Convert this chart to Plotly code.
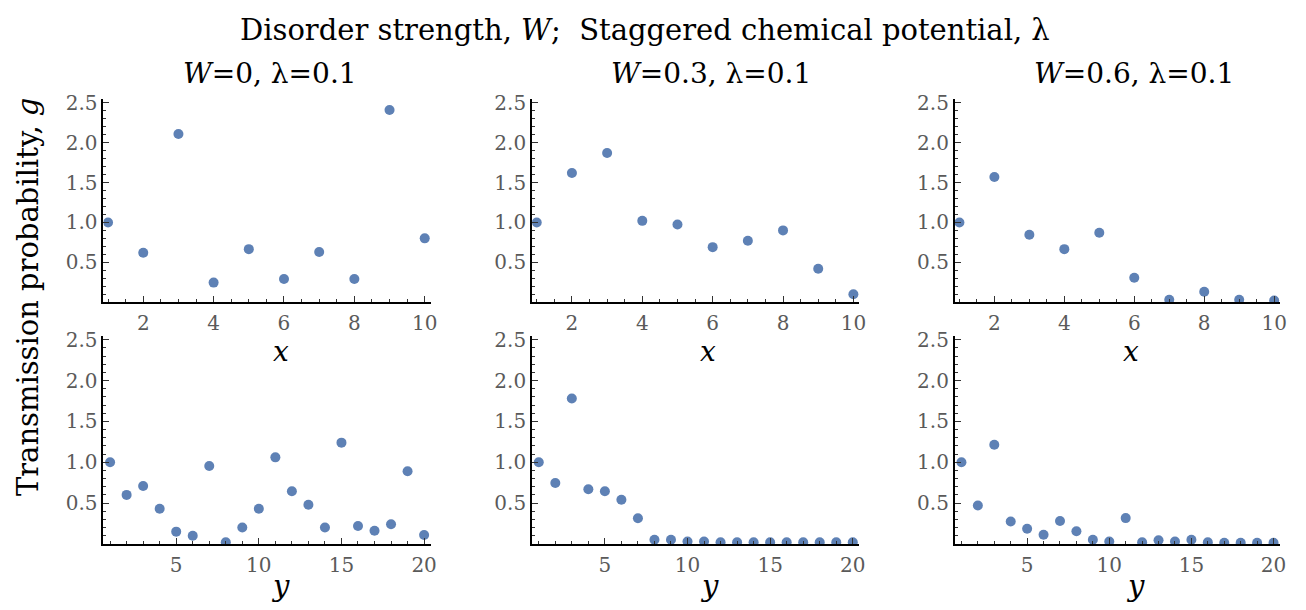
import plotly.graph_objects as go

# ---- data ----
sites_x = list(range(1, 11))
sites_y = list(range(1, 21))

g_x_W0 = [1.0, 0.62, 2.11, 0.245, 0.665, 0.29, 0.63, 0.29, 2.41, 0.80]
g_x_W03 = [1.0, 1.62, 1.87, 1.02, 0.975, 0.69, 0.77, 0.90, 0.42, 0.10]
g_x_W06 = [1.0, 1.57, 0.845, 0.665, 0.87, 0.306, 0.03, 0.13, 0.03, 0.02]

g_y_W0 = [1.0, 0.60, 0.71, 0.43, 0.15, 0.10, 0.955, 0.02, 0.20, 0.43,
          1.06, 0.645, 0.48, 0.20, 1.24, 0.22, 0.16, 0.24, 0.89, 0.11]
g_y_W03 = [1.0, 0.746, 1.78, 0.67, 0.645, 0.54, 0.315, 0.05, 0.05, 0.03,
           0.03, 0.02, 0.02, 0.02, 0.02, 0.02, 0.02, 0.02, 0.02, 0.02]
g_y_W06 = [1.0, 0.47, 1.215, 0.275, 0.186, 0.113, 0.28, 0.154, 0.05, 0.03,
           0.316, 0.02, 0.045, 0.03, 0.05, 0.02, 0.015, 0.015, 0.015, 0.015]

panel_titles = ["<i>W</i>=0, λ=0.1", "<i>W</i>=0.3, λ=0.1", "<i>W</i>=0.6, λ=0.1"]
main_title = "Disorder strength, <i>W</i>;  Staggered chemical potential, λ"
y_title = "Transmission probability, <i>g</i>"
y_ticks = [0.5, 1.0, 1.5, 2.0, 2.5]
y_ticklabels = ["0.5", "1.0", "1.5", "2.0", "2.5"]
x_ticks_top = [2, 4, 6, 8, 10]
x_ticks_bot = [5, 10, 15, 20]

# page offset (default body margin) compensation
OFF = 8
W, H = 1306 - OFF, 610 - OFF
def px_x(px):
    return (px - OFF) / W
def px_y(py):
    return 1 - (py - OFF) / H

MARK = "#5E81B5"
SERIF = "DejaVu Serif"
TICKFONT = dict(family=SERIF, size=20, color="#5a5a5a")

col_px = [(104, 433), (535, 864), (960, 1287)]
row_px = [(92, 298), (332, 543)]

fig = go.Figure()

top_data = [g_x_W0, g_x_W03, g_x_W06]
bot_data = [g_y_W0, g_y_W03, g_y_W06]

idx = 0
for r in range(2):
    for c in range(3):
        idx += 1
        xa = "x" if idx == 1 else f"x{idx}"
        ya = "y" if idx == 1 else f"y{idx}"
        if r == 0:
            xs, ys = sites_x, top_data[c]
        else:
            xs, ys = sites_y, bot_data[c]
        fig.add_trace(go.Scatter(x=xs, y=ys, mode="markers",
                                 marker=dict(color=MARK, size=10),
                                 xaxis=xa, yaxis=ya, showlegend=False))
        x0, x1 = col_px[c]
        y0, y1 = row_px[r]
        xdom = [px_x(x0), px_x(x1)]
        ydom = [px_y(y1), px_y(y0)]
        if r == 0:
            xr = [0.87, 10.17]
            xt = x_ticks_top
            xminor = dict(dtick=0.5, ticklen=3, ticks="inside", tickcolor="#333", tick0=0)
        else:
            xr = [0.6, 20.4]
            xt = x_ticks_bot
            xminor = dict(dtick=1, ticklen=3, ticks="inside", tickcolor="#333", tick0=0)
        xkey = "xaxis" if idx == 1 else f"xaxis{idx}"
        ykey = "yaxis" if idx == 1 else f"yaxis{idx}"
        fig.layout[xkey] = dict(
            domain=xdom, anchor=ya, range=xr, showgrid=False, zeroline=False,
            showline=True, linecolor="black", linewidth=2,
            tickmode="array", tickvals=xt, ticktext=[str(v) for v in xt],
            ticks="inside", ticklen=6, tickwidth=1, tickcolor="#333",
            minor=xminor, tickfont=TICKFONT, ticklabelstandoff=2,
        )
        fig.layout[ykey] = dict(
            domain=ydom, anchor=xa, range=[0, 2.55], showgrid=False, zeroline=False,
            showline=True, linecolor="black", linewidth=2,
            tickmode="array", tickvals=y_ticks, ticktext=y_ticklabels,
            ticks="inside", ticklen=6, tickwidth=1, tickcolor="#333",
            minor=dict(dtick=0.1, ticklen=3, ticks="inside", tickcolor="#333", tick0=0),
            tickfont=TICKFONT, ticklabelstandoff=0,
        )

ann = []
def A(text, px, py, size, **kw):
    ann.append(dict(text=text, x=px_x(px), y=px_y(py), xref="paper", yref="paper",
                    showarrow=False, xanchor="center", yanchor="middle",
                    font=dict(family=SERIF, size=size, color="black"), **kw))

A(main_title, 648, 22, 29)
for t, cx in zip(panel_titles, [271, 715, 1140]):
    A(t, cx, 66, 28)
for cx in [282, 712, 1137]:
    A("<i>x</i>", cx, 348, 28)
for cx in [282, 713, 1142]:
    A("<i>y</i>", cx, 586, 29)
A(y_title, 28, 292, 29, textangle=-90)

fig.update_layout(width=W, height=H, margin=dict(l=0, r=0, t=0, b=0),
                  paper_bgcolor="white", plot_bgcolor="white",
                  annotations=ann, showlegend=False)

fig.write_html("out.html")
